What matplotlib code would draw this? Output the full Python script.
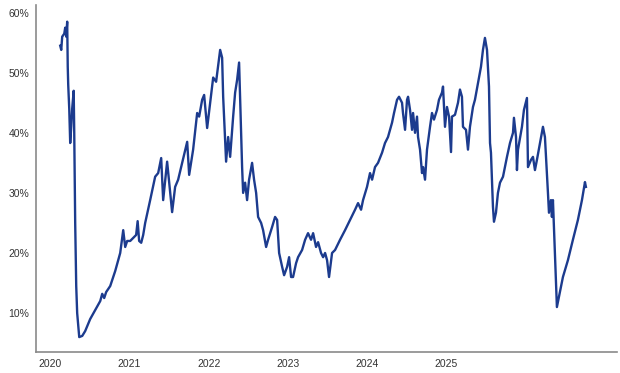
import matplotlib
matplotlib.use("Agg")
import matplotlib.pyplot as plt
from matplotlib.ticker import FuncFormatter

# decimal position on the year axis, as it reads on the chart
t = [2020.126, 2020.139, 2020.151, 2020.177, 2020.189, 2020.202, 2020.214, 2020.221,
     2020.227, 2020.240, 2020.252, 2020.265, 2020.277, 2020.296, 2020.303, 2020.315,
     2020.328, 2020.340, 2020.366, 2020.404, 2020.441, 2020.504, 2020.567, 2020.631,
     2020.656, 2020.681, 2020.706, 2020.757, 2020.820, 2020.883, 2020.921, 2020.946,
     2020.971, 2021.009, 2021.047, 2021.084, 2021.103, 2021.122, 2021.148, 2021.173,
     2021.198, 2021.261, 2021.324, 2021.362, 2021.400, 2021.425, 2021.475, 2021.538,
     2021.576, 2021.614, 2021.665, 2021.728, 2021.753, 2021.803, 2021.854, 2021.879,
     2021.917, 2021.942, 2021.980, 2022.018, 2022.056, 2022.093, 2022.144, 2022.169,
     2022.182, 2022.219, 2022.245, 2022.270, 2022.308, 2022.333, 2022.358, 2022.383,
     2022.409, 2022.421, 2022.434, 2022.459, 2022.484, 2022.509, 2022.547, 2022.572,
     2022.598, 2022.623, 2022.661, 2022.686, 2022.724, 2022.749, 2022.799, 2022.837,
     2022.863, 2022.888, 2022.926, 2022.951, 2022.989, 2023.014, 2023.039, 2023.064,
     2023.102, 2023.127, 2023.178, 2023.216, 2023.253, 2023.291, 2023.317, 2023.354,
     2023.380, 2023.417, 2023.443, 2023.468, 2023.493, 2023.518, 2023.556, 2023.594,
     2023.657, 2023.720, 2023.783, 2023.846, 2023.884, 2023.922, 2023.947, 2023.997,
     2024.035, 2024.061, 2024.098, 2024.136, 2024.187, 2024.224, 2024.262, 2024.313,
     2024.338, 2024.376, 2024.401, 2024.439, 2024.451, 2024.477, 2024.502, 2024.515,
     2024.540, 2024.565, 2024.578, 2024.603, 2024.628, 2024.641, 2024.666, 2024.691,
     2024.704, 2024.729, 2024.754, 2024.792, 2024.817, 2024.842, 2024.880, 2024.905,
     2024.943, 2024.956, 2024.981, 2025.006, 2025.032, 2025.057, 2025.069, 2025.107,
     2025.145, 2025.170, 2025.195, 2025.208, 2025.246, 2025.271, 2025.296, 2025.334,
     2025.359, 2025.397, 2025.435, 2025.460, 2025.485, 2025.511, 2025.536, 2025.549,
     2025.561, 2025.586, 2025.599, 2025.624, 2025.649, 2025.675, 2025.713, 2025.763,
     2025.801, 2025.839, 2025.851, 2025.877, 2025.889, 2025.902, 2025.952, 2025.977,
     2026.015, 2026.028, 2026.066, 2026.091, 2026.116, 2026.141, 2026.179, 2026.217,
     2026.242, 2026.267, 2026.280, 2026.293, 2026.318, 2026.330, 2026.343, 2026.368,
     2026.393, 2026.419, 2026.469, 2026.532, 2026.595, 2026.658, 2026.709, 2026.747,
     2026.759]

pct = [54.5, 53.8, 56.0, 56.5, 57.5, 56.0, 58.5, 51.0,
       48.0, 44.0, 38.3, 41.0, 44.0, 47.0, 40.0, 25.0,
       14.5, 10.0, 6.0, 6.2, 7.0, 9.0, 10.5, 12.0,
       13.2, 12.5, 13.5, 14.5, 17.0, 20.0, 23.8, 21.0,
       22.0, 22.0, 22.5, 23.0, 25.3, 22.0, 21.7, 23.0,
       25.0, 28.8, 32.7, 33.3, 35.8, 28.8, 35.2, 26.8,
       31.0, 32.2, 35.0, 38.5, 33.0, 37.2, 43.3, 42.7,
       45.5, 46.3, 40.8, 45.0, 49.2, 48.5, 53.8, 52.5,
       46.0, 35.2, 39.3, 36.0, 42.7, 46.7, 48.8, 51.7,
       40.0, 34.3, 30.0, 31.7, 28.8, 32.2, 35.0, 32.2,
       30.0, 26.0, 25.0, 23.8, 21.0, 22.2, 24.3, 26.0,
       25.5, 20.0, 17.7, 16.3, 17.7, 19.3, 16.0, 16.0,
       18.3, 19.3, 20.5, 22.2, 23.3, 22.2, 23.3, 21.0,
       21.8, 20.0, 19.3, 20.0, 18.8, 16.0, 20.0, 20.5,
       22.2, 23.8, 25.5, 27.2, 28.3, 27.2, 28.8, 31.0,
       33.3, 32.2, 34.3, 35.0, 36.7, 38.3, 39.3, 41.7,
       43.3, 45.5, 46.0, 45.0, 43.3, 40.5, 45.5, 46.0,
       43.8, 40.5, 43.3, 40.0, 42.7, 39.3, 37.2, 33.3,
       34.3, 32.2, 37.2, 41.0, 43.3, 42.2, 43.8, 45.5,
       46.7, 47.7, 41.0, 44.3, 42.7, 36.8, 42.7, 43.0,
       45.0, 47.2, 46.0, 41.0, 40.5, 37.2, 41.0, 44.3,
       45.5, 48.3, 51.0, 53.8, 55.8, 53.8, 47.7, 38.3,
       36.7, 27.7, 25.2, 26.7, 30.0, 31.7, 32.7, 36.0,
       38.3, 40.0, 42.5, 39.3, 33.8, 37.2, 41.0, 43.8,
       45.8, 34.3, 35.5, 36.0, 33.8, 35.5, 38.3, 41.0,
       39.3, 33.3, 30.0, 26.7, 28.8, 26.0, 28.8, 20.0,
       11.0, 12.7, 16.0, 18.8, 22.2, 25.5, 28.8, 31.8,
       31.0]

years = [2020, 2021, 2022, 2023, 2024, 2025]
yticks = [10, 20, 30, 40, 50, 60]

plt.rcParams['font.family'] = ['Liberation Sans', 'DejaVu Sans']

fig = plt.figure(figsize=(6.2, 3.73), dpi=100)
ax = fig.add_axes([0.058, 0.056, 0.937, 0.931])

ax.plot(t, pct, color='#1c3b8e', lw=1.7, solid_joinstyle='round')

ax.set_xlim(2019.82, 2027.15)
ax.set_ylim(3.5, 61.3)
ax.set_xticks(years)
ax.set_xticklabels([str(y) for y in years])
ax.set_yticks(yticks)
ax.yaxis.set_major_formatter(FuncFormatter(lambda v, p: '{:.0f}%'.format(v)))

for side in ['top', 'right']:
    ax.spines[side].set_visible(False)
for side in ['left', 'bottom']:
    ax.spines[side].set_color('#8a8a8a')
    ax.spines[side].set_linewidth(1.2)

ax.tick_params(length=0, labelsize=7.5, colors='#333333', pad=5)

fig.savefig('out.png', dpi=100, facecolor='white')
